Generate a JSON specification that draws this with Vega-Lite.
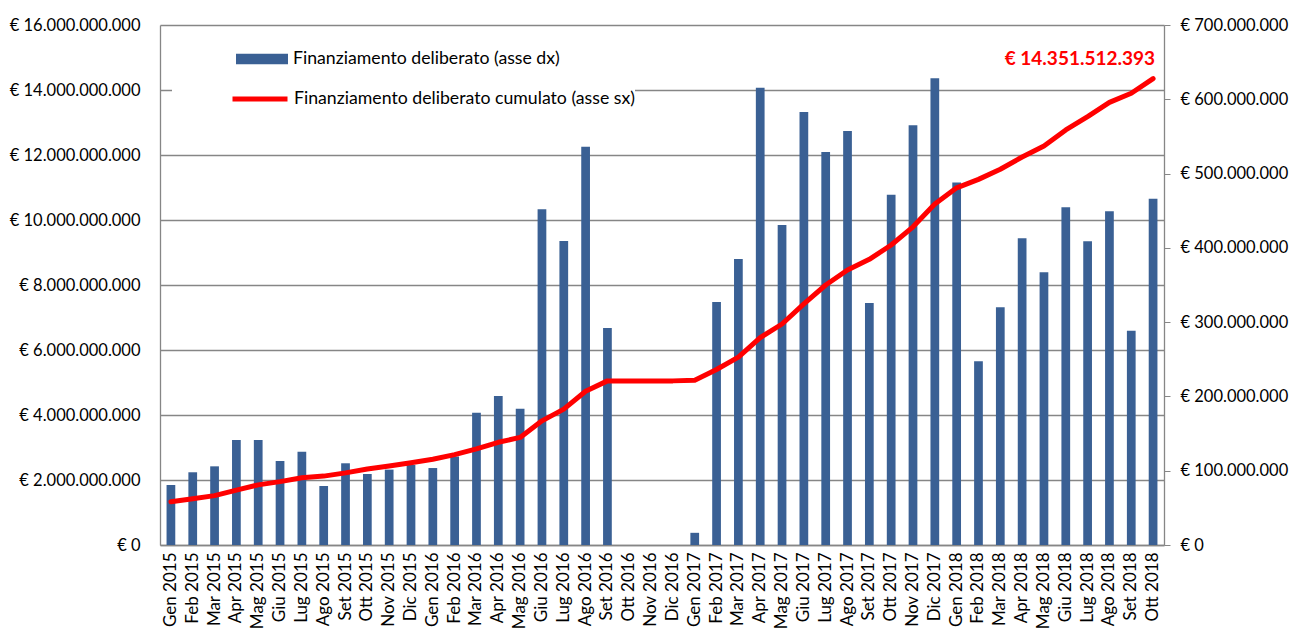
{
  "$schema": "https://vega.github.io/schema/vega-lite/v6.json",
  "width": 1004,
  "height": 520,
  "autosize": {"type": "none"},
  "padding": {"left": 160, "top": 25, "right": 126, "bottom": 83},
  "background": "white",
  "data": {
    "values": [
      {"mese": "Gen 2015", "mensile": 80800000, "cumulato": 1330000000},
      {"mese": "Feb 2015", "mensile": 97900000, "cumulato": 1420000000},
      {"mese": "Mar 2015", "mensile": 105900000, "cumulato": 1520000000},
      {"mese": "Apr 2015", "mensile": 141300000, "cumulato": 1690000000},
      {"mese": "Mag 2015", "mensile": 141300000, "cumulato": 1850000000},
      {"mese": "Giu 2015", "mensile": 113100000, "cumulato": 1950000000},
      {"mese": "Lug 2015", "mensile": 125600000, "cumulato": 2070000000},
      {"mese": "Ago 2015", "mensile": 79400000, "cumulato": 2120000000},
      {"mese": "Set 2015", "mensile": 110000000, "cumulato": 2220000000},
      {"mese": "Ott 2015", "mensile": 95600000, "cumulato": 2340000000},
      {"mese": "Nov 2015", "mensile": 101500000, "cumulato": 2430000000},
      {"mese": "Dic 2015", "mensile": 107700000, "cumulato": 2530000000},
      {"mese": "Gen 2016", "mensile": 103600000, "cumulato": 2640000000},
      {"mese": "Feb 2016", "mensile": 119000000, "cumulato": 2780000000},
      {"mese": "Mar 2016", "mensile": 178100000, "cumulato": 2960000000},
      {"mese": "Apr 2016", "mensile": 200600000, "cumulato": 3160000000},
      {"mese": "Mag 2016", "mensile": 183500000, "cumulato": 3310000000},
      {"mese": "Giu 2016", "mensile": 451900000, "cumulato": 3820000000},
      {"mese": "Lug 2016", "mensile": 409200000, "cumulato": 4180000000},
      {"mese": "Ago 2016", "mensile": 536200000, "cumulato": 4730000000},
      {"mese": "Set 2016", "mensile": 292100000, "cumulato": 5050000000},
      {"mese": "Ott 2016", "mensile": 0, "cumulato": 5050000000},
      {"mese": "Nov 2016", "mensile": 0, "cumulato": 5050000000},
      {"mese": "Dic 2016", "mensile": 0, "cumulato": 5050000000},
      {"mese": "Gen 2017", "mensile": 16400000, "cumulato": 5070000000},
      {"mese": "Feb 2017", "mensile": 327100000, "cumulato": 5400000000},
      {"mese": "Mar 2017", "mensile": 385000000, "cumulato": 5780000000},
      {"mese": "Apr 2017", "mensile": 615600000, "cumulato": 6380000000},
      {"mese": "Mag 2017", "mensile": 430800000, "cumulato": 6800000000},
      {"mese": "Giu 2017", "mensile": 582900000, "cumulato": 7420000000},
      {"mese": "Lug 2017", "mensile": 529000000, "cumulato": 8000000000},
      {"mese": "Ago 2017", "mensile": 557300000, "cumulato": 8460000000},
      {"mese": "Set 2017", "mensile": 325800000, "cumulato": 8790000000},
      {"mese": "Ott 2017", "mensile": 471600000, "cumulato": 9230000000},
      {"mese": "Nov 2017", "mensile": 565000000, "cumulato": 9790000000},
      {"mese": "Dic 2017", "mensile": 628200000, "cumulato": 10490000000},
      {"mese": "Gen 2018", "mensile": 487900000, "cumulato": 10990000000},
      {"mese": "Feb 2018", "mensile": 247500000, "cumulato": 11250000000},
      {"mese": "Mar 2018", "mensile": 320200000, "cumulato": 11560000000},
      {"mese": "Apr 2018", "mensile": 412900000, "cumulato": 11940000000},
      {"mese": "Mag 2018", "mensile": 367300000, "cumulato": 12280000000},
      {"mese": "Giu 2018", "mensile": 454600000, "cumulato": 12770000000},
      {"mese": "Lug 2018", "mensile": 408800000, "cumulato": 13180000000},
      {"mese": "Ago 2018", "mensile": 449200000, "cumulato": 13620000000},
      {"mese": "Set 2018", "mensile": 288500000, "cumulato": 13900000000},
      {"mese": "Ott 2018", "mensile": 466200000, "cumulato": 14351512393}
    ]
  },
  "encoding": {
    "x": {
      "field": "mese",
      "type": "nominal",
      "sort": null,
      "scale": {"paddingInner": 0.6, "paddingOuter": 0.3},
      "axis": {
        "title": null,
        "labelAngle": -90,
        "ticks": false,
        "labelPadding": 7,
        "labelFontSize": 17,
        "domainColor": "#868686",
        "domainWidth": 1.3
      }
    }
  },
  "layer": [
    {
      "mark": {"type": "bar", "color": "#3A6094"},
      "encoding": {
        "y": {
          "field": "mensile",
          "type": "quantitative",
          "scale": {"domain": [0, 700000000], "nice": false},
          "axis": {
            "orient": "right",
            "title": null,
            "format": "$,.0f",
            "values": [0, 100000000, 200000000, 300000000, 400000000, 500000000, 600000000, 700000000],
            "grid": false,
            "ticks": true,
            "tickSize": 6,
            "labelPadding": 10,
            "labelFontSize": 16.5,
            "domainColor": "#868686",
            "domainWidth": 1.3,
            "tickColor": "#868686"
          }
        },
        "color": {
          "datum": "Finanziamento deliberato (asse dx)",
          "type": "nominal",
          "scale": {"range": ["#3A6094"]},
          "legend": {
            "orient": "none",
            "legendX": 76,
            "legendY": 8,
            "title": null,
            "padding": 0,
            "symbolType": "M-1,-0.2H1V0.2H-1Z",
            "symbolSize": 2704,
            "symbolStrokeWidth": 0,
            "labelOffset": 5,
            "labelLimit": 500,
            "labelFont": "Lato",
            "labelFontSize": 17.7,
            "labelColor": "#000000"
          }
        }
      }
    },
    {
      "mark": {"type": "line", "strokeWidth": 5, "strokeJoin": "round", "strokeCap": "round"},
      "encoding": {
        "y": {
          "field": "cumulato",
          "type": "quantitative",
          "scale": {"domain": [0, 16000000000], "nice": false},
          "axis": {
            "orient": "left",
            "title": null,
            "format": "$,.0f",
            "values": [0, 2000000000, 4000000000, 6000000000, 8000000000, 10000000000, 12000000000, 14000000000, 16000000000],
            "grid": true,
            "gridColor": "#868686",
            "gridWidth": 1.3,
            "ticks": false,
            "labelPadding": 20,
            "labelFontSize": 16.5,
            "domainColor": "#868686",
            "domainWidth": 1.3
          }
        },
        "stroke": {
          "datum": "Finanziamento deliberato cumulato (asse sx)",
          "type": "nominal",
          "scale": {"range": ["#FF0000"]},
          "legend": {
            "orient": "none",
            "legendX": 12,
            "legendY": 44,
            "title": null,
            "padding": 0,
            "fillColor": "white",
            "symbolType": "stroke",
            "symbolSize": 3025,
            "symbolStrokeWidth": 5,
            "symbolOffset": 58,
            "labelOffset": 4,
            "labelLimit": 700,
            "labelFont": "Lato",
            "labelFontSize": 17.7,
            "labelColor": "#000000",
            "labelExpr": "datum.label + '              '"
          }
        }
      }
    },
    {
      "transform": [{"filter": "datum.mese == 'Ott 2018'"}],
      "mark": {
        "type": "text",
        "align": "right",
        "baseline": "middle",
        "dx": 2,
        "dy": -20,
        "font": "Lato",
        "fontSize": 19,
        "fontWeight": "bold",
        "color": "#FF0000"
      },
      "encoding": {
        "y": {
          "field": "cumulato",
          "type": "quantitative",
          "scale": {"domain": [0, 16000000000], "nice": false},
          "axis": null
        },
        "text": {"field": "cumulato", "type": "quantitative", "format": "$,.0f"}
      }
    }
  ],
  "resolve": {"scale": {"y": "independent"}},
  "config": {
    "locale": {
      "number": {
        "decimal": ",",
        "thousands": ".",
        "grouping": [3],
        "currency": ["€ ", ""]
      }
    },
    "font": "Lato",
    "view": {"stroke": null},
    "axis": {
      "labelFont": "Lato",
      "labelFontSize": 16.5,
      "labelColor": "#000000"
    }
  }
}
